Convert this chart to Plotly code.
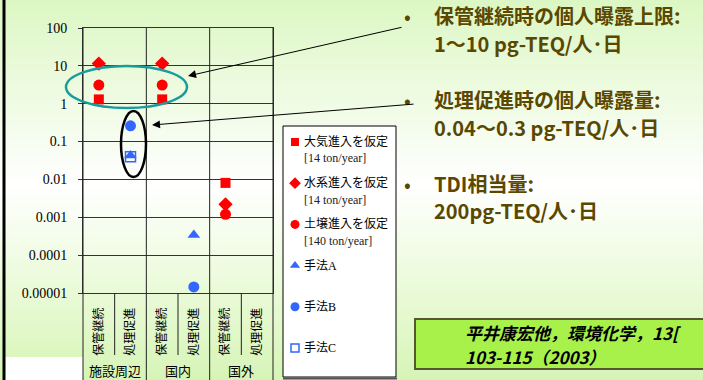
import plotly.graph_objects as go

W, H = 703, 380

# ---------------- data ----------------
groups = ["施設周辺", "国内", "国外"]
subs = ["保管継続", "処理促進"]
categories = [g + "|" + s for g in groups for s in subs]
cat_labels = [s for g in groups for s in subs]

series_names = ["大気進入を仮定", "水系進入を仮定", "土壌進入を仮定", "手法A", "手法B", "手法C"]
series_notes = ["[14 ton/year]", "[14 ton/year]", "[140 ton/year]", "", "", ""]
taiki = [1.3, None, 1.3, None, 0.0081, None]
suikei = [11.5, None, 11.5, None, 0.0022, None]
dojo = [3.1, None, 3.1, None, 0.0012, None]
method_a = [None, 0.043, None, 0.00034, None, None]
method_b = [None, 0.26, None, 0.0000145, None, None]
method_c = [None, 0.04, None, None, None, None]
series_values = [taiki, suikei, dojo, method_a, method_b, method_c]

y_tickvals = [1e-5, 1e-4, 1e-3, 1e-2, 1e-1, 1, 10, 100]
y_ticktext = ["0.00001", "0.0001", "0.001", "0.01", "0.1", "1", "10", "100"]

bullets = [
    ("保管継続時の個人曝露上限:", "1～10 pg-TEQ/人･日"),
    ("処理促進時の個人曝露量:", "0.04～0.3 pg-TEQ/人･日"),
    ("TDI相当量:", "200pg-TEQ/人･日"),
]
citation = ["平井康宏他，環境化学，13[", "103-115（2003）"]

# ---------------- styles ----------------
RED = "#ff0000"
BLUE = "#3366ff"
styles = [
    dict(symbol="square", color=RED, size=10),
    dict(symbol="diamond", color=RED, size=11),
    dict(symbol="circle", color=RED, size=11),
    dict(symbol="triangle-up", color=BLUE, size=11),
    dict(symbol="circle", color=BLUE, size=11),
    dict(symbol="square-open", color=BLUE, size=10),
]


def px(x):
    return x / W


def py(y):
    return 1 - y / H


PL, PR, PT, PB = 83, 273, 28, 293  # plot area in pixels
LG_L, LG_R, LG_T, LG_B = 283, 396, 126, 377  # legend box

SERIF = "Liberation Serif, Times New Roman, Noto Sans CJK JP, serif"
SANS = "Noto Sans CJK JP, sans-serif"

fig = go.Figure()

for name, vals, st in zip(series_names, series_values, styles):
    fig.add_trace(go.Scatter(
        x=categories, y=vals, mode="markers", name=name, showlegend=False,
        marker=dict(symbol=st["symbol"], color=st["color"], size=st["size"],
                    line=dict(width=1.5 if "open" in st["symbol"] else 0, color=st["color"])),
        xaxis="x", yaxis="y", cliponaxis=False,
    ))

# manual legend (overlay axis in pixel-like units)
row0, row_gap = 16, 41.2
for i, (name, st) in enumerate(zip(series_names, styles)):
    ry = row0 + i * row_gap
    fig.add_trace(go.Scatter(
        x=[12], y=[ry], mode="markers", showlegend=False, hoverinfo="skip",
        marker=dict(symbol=st["symbol"], color=st["color"], size=st["size"] - 2,
                    line=dict(width=1.5 if "open" in st["symbol"] else 0, color=st["color"])),
        xaxis="x2", yaxis="y2",
    ))

annotations = []
for i, (name, note) in enumerate(zip(series_names, series_notes)):
    ry = row0 + i * row_gap
    annotations.append(dict(x=19, y=ry, xref="x2", yref="y2", text=name, showarrow=False,
                            xanchor="left", yanchor="middle", font=dict(family=SERIF, size=12, color="black")))
    if note:
        annotations.append(dict(x=19, y=ry + 16.5, xref="x2", yref="y2", text=note, showarrow=False,
                                xanchor="left", yanchor="middle", font=dict(family=SERIF, size=12, color="#222")))

# group labels
n = len(categories)
gw = (PR - PL) / len(groups)
for gi, g in enumerate(groups):
    annotations.append(dict(x=px(PL + gw * (gi + 0.5)), y=py(370), xref="paper", yref="paper", text=g,
                            showarrow=False, xanchor="center", yanchor="middle",
                            font=dict(family=SANS, size=13, color="black")))

# right side bullet text
BROWN = "#5a4700"
bullet_y = [(15, 43), (100, 127), (183, 210)]
for (l1, l2), (y1, y2) in zip(bullets, bullet_y):
    annotations.append(dict(x=px(407), y=py(y1), xref="paper", yref="paper", text="•", showarrow=False,
                            xanchor="center", yanchor="middle", font=dict(family=SANS, size=20, color=BROWN)))
    for txt, yy in [(l1, y1), (l2, y2)]:
        annotations.append(dict(x=px(432), y=py(yy), xref="paper", yref="paper", text="<b>" + txt + "</b>",
                                showarrow=False, xanchor="left", yanchor="middle",
                                font=dict(family=SANS, size=20, color=BROWN)))

# citation
for txt, yy in zip(citation, [332, 356]):
    annotations.append(dict(x=px(463), y=py(yy), xref="paper", yref="paper", text="<b><i>" + txt + "</i></b>",
                            showarrow=False, xanchor="left", yanchor="middle",
                            font=dict(family=SANS, size=17, color="black")))

# arrows (head position in paper, tail as pixel offset)
for (hx, hy), (tx, ty) in [((188, 76), (403, 27)), ((152, 125), (415, 104))]:
    annotations.append(dict(x=px(hx), y=py(hy), xref="paper", yref="paper", ax=tx - hx, ay=ty - hy,
                            axref="pixel", ayref="pixel", showarrow=True, arrowhead=2, arrowsize=1.6,
                            arrowwidth=1, arrowcolor="black", text=""))

shapes = []
# background gradient bands
stops = [(0, (220, 247, 195)), (185, (255, 255, 255)), (300, (232, 250, 212)), (380, (214, 244, 182))]
nb = 76
for b in range(nb):
    y0 = b * H / nb
    y1 = (b + 1) * H / nb
    ym = (y0 + y1) / 2
    for (sa, ca), (sb, cb) in zip(stops[:-1], stops[1:]):
        if sa <= ym <= sb:
            t = (ym - sa) / (sb - sa)
            c = tuple(round(ca[k] + (cb[k] - ca[k]) * t) for k in range(3))
            break
    shapes.append(dict(type="rect", xref="paper", yref="paper", x0=0, x1=1, y0=py(y1 + 0.5), y1=py(y0),
                       fillcolor="rgb(%d,%d,%d)" % c, line=dict(width=0), layer="below"))
# white area bottom-left
shapes.append(dict(type="rect", xref="paper", yref="paper", x0=px(4), x1=px(PL), y0=0, y1=py(357),
                   fillcolor="white", line=dict(width=0), layer="below"))
# left black bar
shapes.append(dict(type="line", xref="paper", yref="paper", x0=px(4), x1=px(4), y0=0, y1=1,
                   line=dict(color="black", width=3)))
# legend box
shapes.append(dict(type="rect", xref="paper", yref="paper", x0=px(LG_L), x1=px(LG_R), y0=py(LG_B), y1=py(LG_T),
                   fillcolor="white", line=dict(color="black", width=1), layer="below"))
shapes.append(dict(type="line", xref="paper", yref="paper", x0=px(LG_L), x1=px(LG_R + 1), y0=py(LG_B + 1.5),
                   y1=py(LG_B + 1.5), line=dict(color="#555", width=2)))
# citation box
shapes.append(dict(type="rect", xref="paper", yref="paper", x0=px(415), x1=px(710), y0=py(369), y1=py(319),
                   fillcolor="#a8f04a", line=dict(color="#55582e", width=2), layer="below"))

# category dividers
cw = (PR - PL) / n
for i in range(n + 1):
    xx = PL + i * cw
    if i % 2 == 0:
        shapes.append(dict(type="line", xref="paper", yref="paper", x0=px(xx), x1=px(xx),
                           y0=0, y1=py(PT), line=dict(color="#222", width=1)))
    else:
        shapes.append(dict(type="line", xref="paper", yref="paper", x0=px(xx), x1=px(xx),
                           y0=py(355), y1=py(PB), line=dict(color="#222", width=1)))

# ellipses
shapes.append(dict(type="circle", xref="paper", yref="paper", x0=px(66), x1=px(187), y0=py(108), y1=py(66),
                   line=dict(color="#1a9c9c", width=2.5)))
shapes.append(dict(type="circle", xref="paper", yref="paper", x0=px(121), x1=px(146), y0=py(177), y1=py(111),
                   line=dict(color="black", width=2.5)))

fig.update_layout(
    width=W, height=H, autosize=False,
    margin=dict(l=0, r=0, t=0, b=0, pad=0),
    paper_bgcolor="rgba(0,0,0,0)", plot_bgcolor="rgba(0,0,0,0)",
    showlegend=False,
    xaxis=dict(domain=[px(PL), px(PR)], type="category", categoryorder="array", categoryarray=categories,
               range=[-0.5, n - 0.5], tickvals=categories, ticktext=cat_labels, tickangle=-90,
               tickfont=dict(family=SANS, size=12, color="black"), ticks="", ticklabelstandoff=9,
               showgrid=False, showline=True, linecolor="#333", linewidth=1, mirror=True, zeroline=False,
               automargin=False),
    yaxis=dict(domain=[py(PB), py(PT)], type="log", range=[-5, 2], tickvals=y_tickvals, ticktext=y_ticktext,
               tickfont=dict(family=SERIF, size=14, color="black"), ticks="outside", ticklen=4, tickcolor="#333",
               showgrid=True, gridcolor="#333", gridwidth=1, showline=True, linecolor="#333", linewidth=1,
               mirror=True, zeroline=False, ticklabelstandoff=8, automargin=False),
    xaxis2=dict(domain=[px(LG_L), px(LG_R)], range=[0, LG_R - LG_L], visible=False, fixedrange=True),
    yaxis2=dict(domain=[py(LG_B), py(LG_T)], range=[LG_B - LG_T, 0], visible=False, fixedrange=True),
    annotations=annotations,
    shapes=shapes,
)

post = (
    "document.documentElement.style.margin='0';"
    "document.documentElement.style.overflow='hidden';"
    "document.body.style.margin='0';"
    "document.body.style.overflow='hidden';"
    "var d=document.querySelector('.plotly-graph-div');"
    "d.style.position='absolute';d.style.left='0px';d.style.top='0px';"
)
fig.write_html("out.html", config={"displayModeBar": False, "responsive": False}, post_script=post)
